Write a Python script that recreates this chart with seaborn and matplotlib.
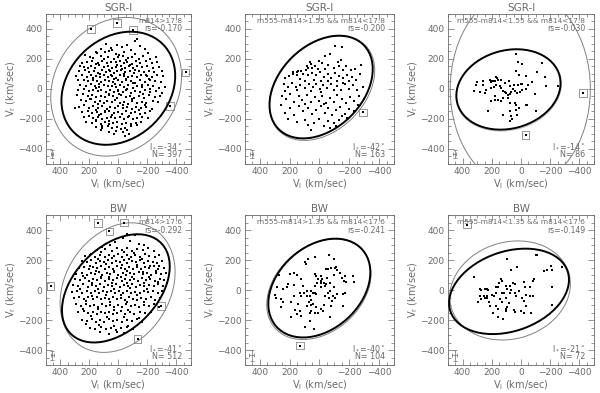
import numpy as np
import pandas as pd
import matplotlib.pyplot as plt
import seaborn as sns
from matplotlib.patches import Ellipse
from matplotlib.ticker import MultipleLocator


# panel labels
titles = ['SGR-I', 'SGR-I', 'SGR-I', 'BW', 'BW', 'BW']
cuts = ['m814>17.8', 'm555-m814>1.55 && m814<17.8', 'm555-m814<1.55 && m814<17.8',
        'm814>17.6', 'm555-m814>1.35 && m814<17.6', 'm555-m814<1.35 && m814<17.6']
rs_vals = ['-0.170', '-0.200', '-0.030', '-0.292', '-0.241', '-0.149']
lstar = ['-34', '-42', '-14', '-41', '-40', '-21']
n_stars = ['397', '163', '86', '512', '104', '72']

# stars (V_l, V_r) in km/sec
sgr_faint = np.array([
    (-130,335),(-118,318),(82,303),(6,296),(-58,292),(-148,287),(42,262),
    (48,272),(-22,281),(118,268),(-88,258),(-182,266),(152,249),
    (148,238),(92,244),(18,236),(-41,247),(-112,233),(-203,241),(228,226),(-8,229),(63,251),
    (252,172),(264,154),(198,215),(171,207),(122,219),(71,212),(28,203),(2,214),(-31,221),(-68,205),
    (-97,212),(-139,199),(-172,218),(-221,203),(-258,212),(101,198),(-52,195),
    (219,181),(182,188),(139,176),(111,185),(78,172),(51,183),(19,177),(-12,186),(-39,172),(-61,181),
    (-92,168),(-121,184),(-152,174),(-191,187),(-233,171),(-268,183),(156,166),(7,163),(-77,159),
    (238,148),(189,152),(161,141),(131,157),(99,146),(74,153),(46,139),(14,148),(-16,156),(-44,142),
    (-72,151),(-101,138),(-129,154),(-161,145),(-198,152),(-241,141),(-282,149),(212,137),(61,128),
    (-26,131),(-117,127),
    (271,118),(229,124),(201,113),(168,122),(141,109),(112,126),(86,116),(58,121),(33,108),(9,119),
    (-21,124),(-49,111),(-81,118),(-108,106),(-141,123),(-176,114),(-211,121),(-249,112),(-298,117),
    (124,101),(49,96),(-36,99),(-188,93),
    (289,86),(251,93),(214,81),(186,94),(154,85),(127,78),(96,91),(69,83),(41,88),(16,76),(-11,92),
    (-38,84),(-66,79),(-94,89),(-126,81),(-159,94),(-196,86),(-229,77),(-266,91),(-309,84),(171,71),
    (28,64),(-52,69),(-211,66),
    (281,58),(239,63),(206,51),(174,62),(146,55),(116,47),(89,61),(61,53),(36,44),(4,57),(-24,49),
    (-56,62),(-86,51),(-114,43),(-146,58),(-181,49),(-216,61),(-251,52),(-291,44),(131,36),(21,33),
    (-101,38),(-161,29),
    (261,28),(224,19),(191,31),(159,22),(131,14),(99,26),(71,17),(44,23),(19,11),(-11,27),(-41,16),
    (-69,24),(-99,9),(-131,21),(-166,13),(-201,26),(-239,18),(-281,7),(-322,16),(151,4),(1,-4),
    (-59,-2),(-219,3),
    (276,-8),(234,-2),(199,-12),(171,-4),(139,-15),(116,-6),(84,-17),(56,-9),(31,-21),(-1,-11),
    (-29,-19),(-54,-7),(-86,-24),(-114,-13),(-151,-22),(-184,-9),(-221,-18),(-261,-11),(-299,-24),
    (61,-31),(-6,-36),(-171,-33),
    (286,-41),(244,-34),(211,-47),(179,-39),(151,-52),(121,-44),(89,-56),(66,-38),(39,-49),(11,-58),
    (-19,-43),(-51,-54),(-79,-46),(-111,-61),(-139,-48),(-176,-57),(-209,-41),(-251,-53),(-289,-46),
    (196,-66),(24,-71),(-96,-69),
    (259,-74),(221,-82),(189,-69),(161,-86),(129,-77),(101,-91),(76,-81),(44,-88),(21,-76),(-9,-94),
    (-41,-84),(-64,-97),(-96,-79),(-126,-91),(-161,-84),(-194,-96),(-236,-81),(-274,-89),(141,-101),
    (-31,-106),(-181,-104),
    (269,-118),(236,-109),(199,-124),(171,-112),(139,-127),(111,-116),(79,-131),(54,-119),(26,-126),
    (1,-114),(-31,-129),(-59,-121),(-91,-134),(-119,-117),(-156,-128),(-189,-119),(-229,-131),
    (151,-141),(94,-146),(-141,-139),
    (301,-129),(249,-154),(211,-146),(181,-159),(149,-151),(121,-164),(89,-156),(61,-149),(31,-161),
    (4,-153),(-26,-166),(-54,-149),(-86,-161),(-116,-152),(-151,-167),(-186,-158),(-221,-149),
    (136,-171),(46,-176),(-71,-179),
    (239,-189),(199,-181),(171,-194),(139,-186),(111,-199),(79,-191),(49,-184),(21,-196),(-9,-189),
    (-41,-201),(-69,-186),(-101,-198),(-129,-191),(-166,-184),(-201,-196),(156,-206),(66,-214),
    (221,-219),(181,-226),(151,-214),(121,-231),(94,-221),(64,-234),(34,-226),(6,-219),(-24,-231),
    (-56,-224),(-86,-236),(-121,-229),(111,-246),
    (151,-251),(109,-259),(74,-248),(41,-262),(11,-254),(-19,-266),(-49,-258),(-89,-249),
    (119,-276),(61,-284),(19,-279),(-31,-288),(-61,-274),
    (29,-302),(-49,-314),(-71,-298),(-126,-241),(-156,-218),
])

sgr_red = np.array([
    (-103,289),(-154,283),(-74,232),(-36,221),(-143,194),(-125,183),(-281,161),
    (65,183),(60,165),(87,150),(31,154),(47,139),(76,139),(92,127),(121,121),(147,123),(-20,175),
    (-60,160),(-95,140),(-130,155),(-175,150),(-210,125),(-240,130),(10,135),(-40,130),(-160,125),
    (180,110),(0,185),
    (154,110),(176,101),(154,94),(205,85),(230,70),(110,100),(80,90),(50,105),(20,95),(-5,110),
    (-30,80),(-55,100),(-80,75),(-105,105),(-130,85),(-155,70),(-185,95),(-215,80),(-245,60),
    (-270,100),(130,65),(100,55),(35,60),(-10,55),(-60,55),(-115,50),(-200,50),
    (240,30),(210,10),(185,40),(160,15),(130,25),(100,5),(70,35),(45,10),(20,30),(-5,0),(-25,25),
    (-50,5),(-75,30),(-95,-5),(-120,20),(-145,-10),(-170,30),(-195,0),(-225,25),(-255,-10),
    (-290,15),(230,-15),(150,-5),(60,-15),(-10,-20),(-160,40),
    (250,-50),(225,-70),(195,-35),(170,-85),(140,-50),(115,-75),(85,-40),(55,-90),(30,-55),
    (5,-80),(-20,-45),(-45,-95),(-70,-60),(-95,-85),(-120,-40),(-150,-70),(-180,-95),(-205,-55),
    (-235,-80),(-265,-45),(-300,-70),(95,-100),(-30,-100),
    (230,-160),(200,-130),(170,-175),(140,-115),(110,-150),(80,-125),(50,-170),(20,-140),
    (-10,-115),(-35,-160),(-60,-130),(-85,-175),(-110,-140),(-140,-120),(-170,-165),(-200,-135),
    (-235,-150),(-260,-110),(260,-110),(-150,-180),
    (210,-200),(150,-220),(100,-205),(75,-240),(40,-225),(5,-200),(-30,-245),(-60,-215),
    (-100,-230),(-130,-205),(58,-272),(-70,-260),(-110,-250),(-185,-195),
])

sgr_blue = np.array([
    (37,232),(23,183),(-5,165),(-142,174),(-112,116),(-164,83),(-169,17),(-256,21),(-32,85),
    (14,94),(32,123),(-78,45),(-50,28),(2,34),(-9,34),(21,28),(48,28),(82,50),(78,21),(107,39),
    (139,61),(158,61),(164,72),(169,83),(180,50),(192,50),(203,54),(208,45),(215,61),(260,50),
    (260,28),(301,45),(306,28),(324,-12),(279,-21),(249,-28),(237,-6),(203,6),(187,10),(169,28),
    (146,17),(135,6),(123,-12),(112,-21),(100,-28),(89,-39),(78,-34),(66,-21),(55,1),(43,-12),
    (27,-28),(9,-17),(-9,-6),(-37,1),(180,-50),(203,-83),(180,-72),(158,-72),(135,-83),(123,-61),
    (89,-61),(78,-94),(43,-94),(32,-105),(14,-127),(-32,-105),(-41,-105),(-94,-34),(-100,-150),
    (226,-145),(73,-150),(66,-183),(59,-198),(73,-216),(27,-172),(32,-139),(123,-172),
])

bw_faint = np.array([
    (-57,371),(-115,365),(-30,350),
    (-177,298),(20,318),(-80,325),(60,300),(-140,310),(110,290),
    (150,268),(95,276),(45,262),(8,281),(-26,269),(-61,277),(-94,262),(-131,274),(-168,266),
    (-205,279),(-246,261),(121,252),(-41,251),(-111,248),(188,241),
    (231,228),(192,236),(158,221),(124,233),(91,219),(62,231),(31,224),(2,237),(-28,221),(-57,232),
    (-86,219),(-118,234),(-149,223),(-182,238),(-214,226),(-251,218),(-282,233),(44,211),(-72,206),
    (-166,209),(141,205),
    (252,192),(218,184),(186,197),(157,181),(129,194),(101,186),(73,198),(46,182),(18,191),(-9,185),
    (-37,199),(-63,181),(-92,193),(-121,186),(-148,197),(-177,183),(-206,194),(-238,187),(-268,179),
    (-302,191),(86,171),(-24,168),(-131,166),(-221,162),(196,162),(-283,158),
    (271,148),(236,156),(204,141),(176,152),(148,144),(121,157),(94,139),(67,151),(39,143),(12,158),
    (-16,146),(-44,139),(-71,154),(-99,142),(-127,156),(-156,141),(-184,151),(-214,146),(-245,157),
    (-276,139),(-316,148),(156,127),(27,124),(-57,126),(-171,121),(-261,126),
    (289,108),(251,116),(219,102),(191,114),(163,106),(136,118),(109,101),(81,112),(54,105),(27,117),
    (-1,103),(-29,114),(-56,101),(-83,116),(-111,107),(-139,119),(-168,104),(-196,113),(-227,101),
    (-259,116),(-291,106),(-326,111),(121,88),(-16,86),(-97,89),(-211,84),(241,91),(66,84),
    (301,71),(263,64),(231,77),(199,62),(172,74),(144,66),(116,79),(89,61),(61,73),(34,67),(6,79),
    (-22,63),(-49,76),(-77,64),(-106,72),(-134,61),(-161,77),(-191,68),(-221,74),(-254,62),(-286,71),
    (-318,66),(181,48),(46,44),(-63,49),(-176,46),(-271,51),
    (311,31),(276,24),(241,37),(211,21),(181,34),(154,26),(126,39),(99,22),(71,33),(44,25),(16,38),
    (-12,21),(-39,34),(-67,27),(-94,39),(-121,22),(-151,36),(-179,24),(-211,33),(-243,26),(-276,38),
    (-308,29),(-336,45),(141,8),(29,6),(-81,11),(-196,7),(261,4),
    (321,-12),(286,-4),(251,-17),(219,-6),(191,-19),(161,-9),(134,-21),(106,-8),(79,-16),(51,-4),
    (24,-19),(-4,-9),(-31,-21),(-59,-6),(-88,-18),(-116,-11),(-146,-23),(-176,-8),(-206,-16),
    (-238,-5),(-271,-19),(-301,-9),(86,-33),(-19,-36),(-131,-34),(181,-38),
    (304,-52),(269,-44),(236,-58),(206,-47),(176,-61),(149,-49),(121,-63),(94,-51),(66,-59),(39,-46),
    (11,-61),(-16,-53),(-44,-66),(-71,-48),(-99,-58),(-129,-69),(-159,-54),(-191,-62),(-224,-49),
    (-256,-64),(-289,-56),(221,-76),(56,-79),(-61,-83),(-176,-81),
    (291,-92),(256,-104),(224,-96),(194,-108),(166,-99),(139,-111),(111,-94),(84,-106),(56,-97),
    (29,-112),(1,-101),(-26,-114),(-54,-96),(-84,-108),(-113,-101),(-143,-116),(-176,-99),(-209,-109),
    (-246,-96),(-279,-111),(141,-129),(31,-133),(-69,-136),(241,-126),
    (276,-149),(239,-141),(206,-156),(176,-146),(149,-159),(119,-144),(91,-156),(64,-148),(36,-161),
    (9,-151),(-19,-143),(-49,-158),(-79,-149),(-111,-161),(-146,-146),(-186,-156),(-226,-149),
    (186,-176),(76,-181),(-36,-179),(-141,-184),
    (251,-199),(216,-206),(184,-194),(154,-211),(124,-201),(96,-214),(66,-196),(36,-209),(6,-201),
    (-26,-213),(-59,-199),(-91,-208),(-126,-196),(-166,-211),(131,-236),(29,-241),(-66,-238),(226,-229),
    (196,-254),(159,-262),(121,-248),(86,-259),(51,-251),(16,-264),(-21,-256),(-59,-249),(-99,-261),
    (126,-283),(11,-283),(-36,-289),(61,-296),
])

bw_red = np.array([
    (76,210),(27,221),(-65,232),(-96,205),(94,187),(89,172),(-47,143),(-54,143),(-80,145),
    (-107,145),(-114,156),(-121,134),(-136,112),(-98,99),(-170,94),(-225,94),(-230,54),(-165,61),
    (-181,54),(-152,83),(-49,79),(-47,39),(-29,45),(-13,94),(-20,76),(-7,61),(9,72),(31,105),
    (25,94),(-13,23),(31,28),(16,45),(-7,50),(-36,28),(-69,45),(125,72),(109,28),(199,105),
    (170,112),(154,99),(270,99),(172,32),(210,39),(217,23),(248,10),(288,23),(299,-32),(292,-54),
    (259,-57),(246,-83),(261,-110),(194,-83),(143,-90),(127,-43),(87,-39),(87,-6),(54,-6),
    (42,-17),(31,-17),(20,-28),(54,-65),(65,-39),(71,-83),(54,-101),(42,-94),(83,-105),(20,-116),
    (60,-139),(31,-150),(9,-150),(-13,-128),(-25,-139),(-33,-101),(-80,-105),(-83,-72),(-65,-50),
    (-103,-50),(-92,-39),(-118,-28),(-158,-28),(-174,-17),(-36,-39),(-58,-17),(-74,-6),(-96,17),
    (165,-132),(154,-161),(132,-139),(65,-154),(-74,-183),(-158,-105),(65,-205),(94,-249),
    (38,-261),(127,-172),(194,-183),(170,-39),(132,-17),(105,-17),
])

bw_blue = np.array([
    (324,88),(283,10),(276,-1),(249,6),(233,6),(226,1),(249,-50),(283,-39),(272,-61),(233,-39),
    (256,-43),(196,-34),(185,-39),(169,-21),(169,17),(158,17),(153,50),(130,61),(139,76),(105,28),
    (96,10),(78,28),(55,50),(43,39),(94,210),(71,134),(27,156),(130,-23),(116,-17),(100,-50),
    (78,-17),(66,1),(43,-17),(32,-39),(14,-6),(-18,54),(-25,23),(-9,-50),(-18,-72),(-37,-34),
    (-64,-39),(-32,-105),(-71,-150),(-2,-139),(-18,-154),(43,-145),(50,-132),(82,-88),(96,-110),
    (105,-127),(130,-83),(146,-61),(169,-105),(192,-154),(158,-183),(123,-190),(100,-139),
    (210,-105),(233,-50),(295,-79),(219,-83),(155,-127),(-82,61),(-91,72),(-208,161),(-210,134),
    (-279,156),(-212,17),(-215,-101),(-100,234),(-112,234),(-155,127),(-178,132),(-82,-39),(-64,17),
])

panel_stars = [sgr_faint, sgr_red, sgr_blue, bw_faint, bw_red, bw_blue]

# boxed (rejected) stars
boxed = [
    [(190,398),(7,438),(-103,394),(-463,110),(-358,-112)],
    [(-292,-156)],
    [(-425,-25),(-32,-305)],
    [(138,445),(-39,449),(62,391),(466,28),(-294,-105),(-133,-327)],
    [(132,-371)],
    [(368,436)],
]

# velocity ellipses: (center_l, center_r, semi-major, semi-minor, angle)
thick_ell = [(0,5,425,339,-40),(-11,13,400,278,-44),(86,-3,362,261,-14),
             (17,11,434,282,-43),(1,13,386,277,-41.5),(82,-9,423,266,-18)]
thin_ell = [(15,15,490,420,-50),(-18,6,406,285,-44),(5,0,480,655,0),
            (5,16,464,358,-55),(4,5,392,285,-41),(75,-3,419,323,-15)]

# typical error bar per panel
err_size = [(8,25),(8,25),(8,25),(10,30),(15,38),(15,38)]

grey = '#6a6a6a'

sns.set_theme(style='ticks')
plt.rcParams['font.family'] = ['DejaVu Sans']

fig = plt.figure(figsize=(6, 3.93), dpi=100)
lefts = [0.0762, 0.4083, 0.7467]
widths = [0.242, 0.2483, 0.2433]
bottoms = [0.5827, 0.0712]
height = 0.3817

for i in range(6):
    row, col = divmod(i, 3)
    ax = fig.add_axes([lefts[col], bottoms[row], widths[col], height])

    pts = pd.DataFrame(panel_stars[i], columns=['vl', 'vr'])
    sns.scatterplot(data=pts, x='vl', y='vr', ax=ax, marker='s', s=3.5,
                    color='black', linewidth=0, zorder=3)

    bx = pd.DataFrame(boxed[i], columns=['vl', 'vr'])
    sns.scatterplot(data=bx, x='vl', y='vr', ax=ax, marker='s', s=3.5,
                    color='black', linewidth=0, zorder=3)
    ax.scatter(bx['vl'], bx['vr'], marker='s', s=30, facecolors='none',
               edgecolors='#888888', linewidths=0.6, zorder=3)

    cx, cy, a, b, ang = thin_ell[i]
    ax.add_patch(Ellipse((cx, cy), 2 * a, 2 * b, angle=ang, fill=False,
                         edgecolor='#808080', lw=0.7, zorder=2))
    if i == 2:
        ax.add_patch(Ellipse((84, -8), 2 * 366, 2 * 266, angle=-14, fill=False,
                             edgecolor='#c0c0c0', lw=0.7, zorder=2))
    cx, cy, a, b, ang = thick_ell[i]
    ax.add_patch(Ellipse((cx, cy), 2 * a, 2 * b, angle=ang, fill=False,
                         edgecolor='black', lw=1.4, zorder=4))

    ex, ey = err_size[i]
    ax.errorbar(455, -435, xerr=ex, yerr=ey, color=grey, lw=0.5,
                capsize=1.2, capthick=0.5)

    ax.set_xlim(500, -500)
    ax.set_ylim(-500, 500)
    ax.set_xticks([400, 200, 0, -200, -400])
    ax.set_yticks([-400, -200, 0, 200, 400])
    ax.xaxis.set_minor_locator(MultipleLocator(50))
    ax.yaxis.set_minor_locator(MultipleLocator(50))
    ax.tick_params(which='both', direction='in', top=True, right=True,
                   color=grey, labelcolor=grey, labelsize=6.5, width=0.5, pad=2.5)
    ax.tick_params(which='major', length=4)
    ax.tick_params(which='minor', length=2)
    for sp in ax.spines.values():
        sp.set_color(grey)
        sp.set_linewidth(0.6)

    ax.set_xlabel(r'V$_\mathrm{l}$ (km/sec)', color=grey, fontsize=7, labelpad=1)
    ax.set_ylabel(r'V$_\mathrm{r}$ (km/sec)', color=grey, fontsize=7, labelpad=0)
    ax.set_title(titles[i], color=grey, fontsize=7.5, pad=2)

    ax.text(0.94, 0.955, cuts[i], transform=ax.transAxes, ha='right', va='center',
            color=grey, fontsize=5.3)
    ax.text(0.94, 0.90, 'rs=' + rs_vals[i], transform=ax.transAxes, ha='right',
            va='center', color=grey, fontsize=5.5)
    ax.text(0.94, 0.115, r'l$_*$=' + lstar[i] + r'$^\circ$', transform=ax.transAxes,
            ha='right', va='center', color=grey, fontsize=5.8)
    ax.text(0.94, 0.06, 'N= ' + n_stars[i], transform=ax.transAxes, ha='right',
            va='center', color=grey, fontsize=5.8)

plt.savefig('out.png', dpi=100)
